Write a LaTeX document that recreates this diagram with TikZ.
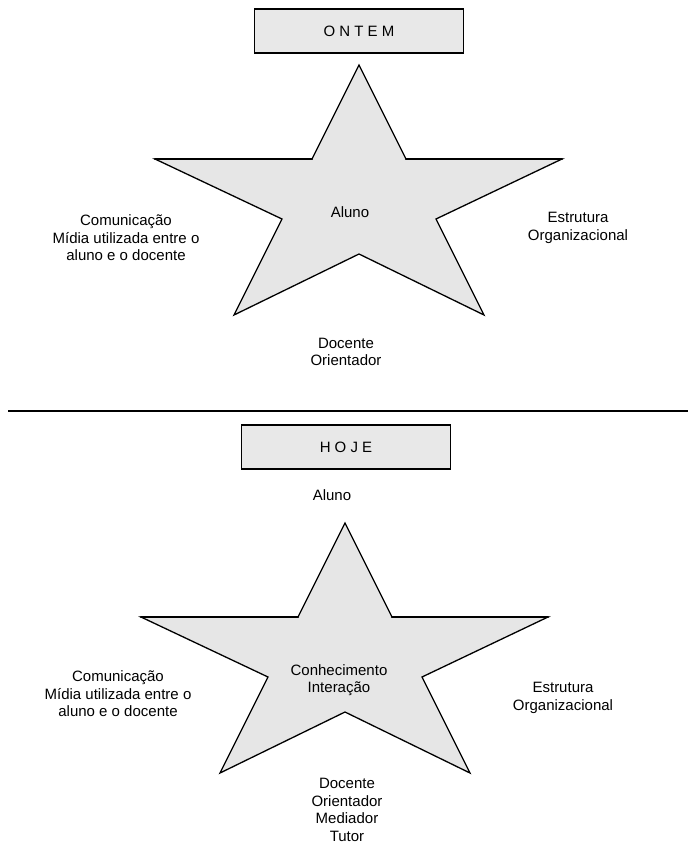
\documentclass[tikz,border=0pt]{standalone}
\usepackage{fontspec}
\setmainfont{Liberation Sans}
\usepackage{xcolor}
\usetikzlibrary{calc}

\definecolor{stargray}{RGB}{230,230,230}
\definecolor{boxgray}{RGB}{232,232,232}

\tikzset{
    titlebox/.style={draw,line width=1.6pt,fill=boxgray,minimum width=209pt,minimum height=44pt,
        font=\fontsize{15}{17.5}\selectfont},
    lbl/.style={align=center,font=\fontsize{15}{17.5}\selectfont}
}

\begin{document}
\begin{tikzpicture}[x=1pt,y=-1pt,cap=round,>=latex]
        \useasboundingbox (0,0) rectangle (688,848);

        % draw the two stars
        \foreach \dx/\dy in {0/0,-14/458} {
                \draw[line width=1.3pt,line join=miter,fill=stargray,shift={(\dx,\dy)}]
                    (359,65) -- (406,159) -- (562,159) -- (436,219) -- (484,315)
                    -- (359,254) -- (234,315) -- (282,219) -- (155,159) -- (312,159) -- cycle;
                % the top edges of the arms are heavier
                \draw[line width=2.2pt,shift={(\dx,\dy)}] (155,159) -- (312,159) (406,159) -- (562,159);
        }

        % draw the title boxes
        \node[titlebox] (ontem) at (359,31) {O N T E M};
        \node[titlebox] (hoje) at (346,447) {H O J E};

        % draw the line between the two parts
        \draw[line width=2.5pt,cap=butt] (8,411) -- (688,411);

        % labels of the first star
        \node[lbl] (aluno1) at (350,212) {Aluno};
        \node[lbl] (comunic1) at (126,238) {Comunicação\\Mídia utilizada entre o\\aluno e o docente};
        \node[lbl] (estrut1) at (578,228) {Estrutura\\Organizacional};
        \node[lbl] (docente1) at (346,352) {Docente\\Orientador};

        % labels of the second star
        \node[lbl] (aluno2) at (332,495) {Aluno};
        \node[lbl] (conhec) at (339,680) {Conhecimento\\Interação};
        \node[lbl] (comunic2) at (118,694) {Comunicação\\Mídia utilizada entre o\\aluno e o docente};
        \node[lbl] (estrut2) at (563,698) {Estrutura\\Organizacional};
        \node[lbl] (docente2) at (347,810) {Docente\\Orientador\\Mediador\\Tutor};
\end{tikzpicture}
\end{document}
